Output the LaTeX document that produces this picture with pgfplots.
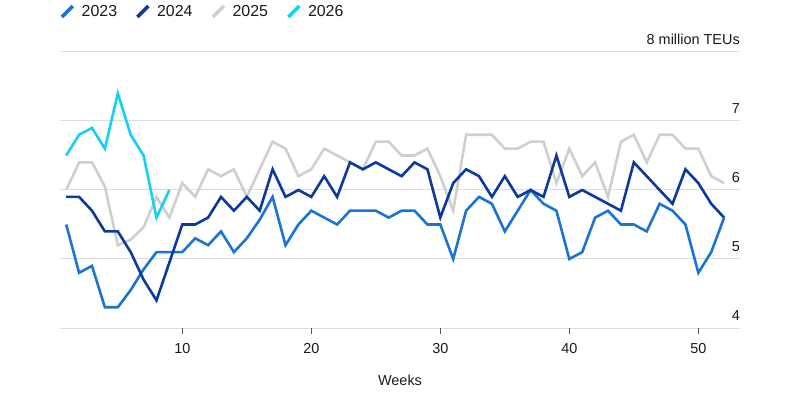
\documentclass[border=0pt]{standalone}
\usepackage{pgfplots}
\pgfplotsset{compat=1.18}
\usepackage{fontspec}
\setmainfont{Liberation Sans}
\definecolor{c23}{HTML}{1A74D4}
\definecolor{c24}{HTML}{0B3A9E}
\definecolor{c25}{HTML}{CFCFCF}
\definecolor{c26}{HTML}{14D0F8}
\definecolor{gridc}{HTML}{DDDDDD}
\definecolor{tickc}{HTML}{555555}
\definecolor{txt}{HTML}{1A1A1A}
\begin{document}
\begin{tikzpicture}
\useasboundingbox (0,0) rectangle (808bp,399bp);
\begin{axis}[
  at={(60bp,71bp)}, anchor=south west,
  scale only axis, width=680bp, height=276bp,
  xmin=0.52, xmax=53.23, ymin=4, ymax=8,
  axis line style={draw=none},
  ytick={4,5,6,7,8}, yticklabels={4,5,6,7,8 million TEUs},
  yticklabel pos=right,
  yticklabel style={anchor=base east, inner sep=0pt, yshift=7.5bp},
  ymajorgrids, grid style={color=gridc, line width=1bp},
  major y tick style={draw=none},
  xtick={10,20,30,40,50}, xtick pos=bottom, xtick align=outside,
  major x tick style={draw=tickc, line width=0.8bp},
  major tick length=6bp,
  tick label style={font=\fontsize{14.5}{16}\selectfont, text=txt},
  /pgf/number format/assume math mode=true,
  xticklabel style={anchor=base, inner sep=0pt, yshift=-19bp},
  xlabel={Weeks},
  xlabel style={at={(axis description cs:0.5,0)}, anchor=base, inner sep=0pt, yshift=-57bp, font=\fontsize{14.5}{16}\selectfont, text=txt},
  legend columns=4,
  legend style={draw=none, fill=none, at={(0,1)}, anchor=south west, xshift=-3bp, yshift=30bp,
    font=\fontsize{16}{18}\selectfont, text=txt,
    /tikz/every odd column/.append style={column sep=5bp},
    /tikz/every even column/.append style={column sep=16.5bp}},
  legend cell align=left,
  legend image code/.code={\draw[#1, line width=3.5bp, line cap=butt] (0bp,-5.5bp) -- (11bp,5.5bp);},
  every axis plot/.append style={line width=2.6bp, line join=miter},
]
\addlegendimage{c23}\addlegendentry{2023}
\addlegendimage{c24}\addlegendentry{2024}
\addlegendimage{c25}\addlegendentry{2025}
\addlegendimage{c26}\addlegendentry{2026}
% 2025
\addplot[c25, forget plot] coordinates {
(1,6.0)(2,6.4)(3,6.4)(4,6.05)(5,5.2)(6,5.28)(7,5.46)(8,5.9)(9,5.6)(10,6.1)
(11,5.9)(12,6.3)(13,6.2)(14,6.3)(15,5.9)(16,6.3)(17,6.7)(18,6.6)(19,6.2)(20,6.3)
(21,6.6)(22,6.5)(23,6.4)(24,6.3)(25,6.7)(26,6.7)(27,6.5)(28,6.5)(29,6.6)(30,6.2)
(31,5.7)(32,6.8)(33,6.8)(34,6.8)(35,6.6)(36,6.6)(37,6.7)(38,6.7)(39,6.1)(40,6.6)
(41,6.2)(42,6.4)(43,5.9)(44,6.7)(45,6.8)(46,6.4)(47,6.8)(48,6.8)(49,6.6)(50,6.6)
(51,6.2)(52,6.1)};
% 2023
\addplot[c23, forget plot] coordinates {
(1,5.5)(2,4.8)(3,4.9)(4,4.3)(5,4.3)(6,4.55)(7,4.85)(8,5.1)(9,5.1)(10,5.1)
(11,5.3)(12,5.2)(13,5.4)(14,5.1)(15,5.3)(16,5.57)(17,5.9)(18,5.2)(19,5.5)(20,5.7)
(21,5.6)(22,5.5)(23,5.7)(24,5.7)(25,5.7)(26,5.6)(27,5.7)(28,5.7)(29,5.5)(30,5.5)
(31,5.0)(32,5.7)(33,5.9)(34,5.8)(35,5.4)(36,5.7)(37,6.0)(38,5.8)(39,5.7)(40,5.0)
(41,5.1)(42,5.6)(43,5.7)(44,5.5)(45,5.5)(46,5.4)(47,5.8)(48,5.7)(49,5.5)(50,4.8)
(51,5.1)(52,5.6)};
% 2024
\addplot[c24, forget plot] coordinates {
(1,5.9)(2,5.9)(3,5.7)(4,5.4)(5,5.4)(6,5.1)(7,4.7)(8,4.4)(9,4.95)(10,5.5)
(11,5.5)(12,5.6)(13,5.9)(14,5.7)(15,5.9)(16,5.7)(17,6.3)(18,5.9)(19,6.0)(20,5.9)
(21,6.2)(22,5.9)(23,6.4)(24,6.3)(25,6.4)(26,6.3)(27,6.2)(28,6.4)(29,6.3)(30,5.6)
(31,6.1)(32,6.3)(33,6.2)(34,5.9)(35,6.2)(36,5.9)(37,6.0)(38,5.9)(39,6.5)(40,5.9)
(41,6.0)(42,5.9)(43,5.8)(44,5.7)(45,6.4)(46,6.2)(47,6.0)(48,5.8)(49,6.3)(50,6.1)
(51,5.8)(52,5.6)};
% 2026
\addplot[c26, forget plot] coordinates {
(1,6.5)(2,6.8)(3,6.9)(4,6.6)(5,7.4)(6,6.8)(7,6.5)(8,5.6)(9,6.0)};
\end{axis}
\end{tikzpicture}
\end{document}
